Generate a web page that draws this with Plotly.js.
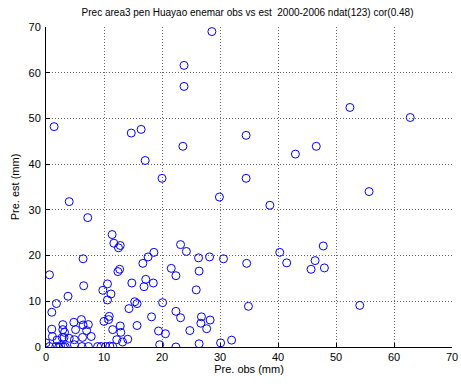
<!DOCTYPE html>
<html>
<head>
<meta charset="utf-8">
<script src="https://cdn.plot.ly/plotly-3.0.1.min.js"></script>
<style>html,body{margin:0;padding:0;background:#fff;}#chart{width:461px;height:384px;}</style>
</head>
<body>
<div id="chart"></div>
<script>
// Observed precipitation (mm)
const obs = [
 28.6, 23.8, 23.8, 1.4, 14.7, 16.4, 23.6, 17.1, 20.0, 4.0,
 7.2, 29.9, 34.5, 43.0, 46.6, 52.4, 62.8, 55.7, 34.5, 38.6,
 47.8, 40.3, 41.5, 46.4, 45.7, 48.0, 54.1, 34.6, 34.9, 30.6,
 28.2, 26.3, 23.2, 24.2, 18.6, 17.6, 16.7, 21.6, 22.4, 26.4,
 17.2, 18.5, 16.9, 25.9, 20.1, 22.4, 23.2, 18.2, 26.8, 28.3,
 26.7, 27.7, 24.8, 19.4, 20.6, 32.0, 30.1, 19.6, 26.4, 22.4,
 11.4, 11.7, 12.8, 12.5, 6.4, 0.6, 12.4, 12.7, 6.5, 14.8,
 10.6, 9.8, 11.2, 10.6, 3.8, 1.8, 1.0, 14.3, 15.7, 15.3,
 10.9, 10.0, 10.8, 11.5, 12.8, 12.9, 12.2, 14.1, 13.2, 15.7,
 9.5, 10.3, 11.5, 7.3, 6.2, 4.9, 3.0, 2.5, 2.2, 3.3,
 1.7, 0.6, 0.0, 1.0, 1.1, 2.9, 2.9, 3.2, 2.8, 3.1,
 4.0, 1.9, 4.8, 6.1, 6.4, 5.1, 7.0, 7.3, 7.8, 6.3,
 4.9, 8.9, 11.0
];
// Estimated precipitation (mm)
const est = [
 69.0, 61.6, 57.0, 48.2, 46.8, 47.6, 43.9, 40.8, 36.9, 31.8,
 28.3, 32.8, 46.3, 42.2, 43.9, 52.4, 50.2, 34.0, 36.9, 31.0,
 22.1, 20.7, 18.4, 18.9, 17.0, 17.3, 9.1, 18.3, 8.9, 19.3,
 19.7, 19.5, 22.4, 20.9, 20.7, 19.7, 18.3, 17.2, 15.6, 16.6,
 14.8, 14.0, 13.2, 12.5, 9.7, 7.8, 6.4, 6.6, 6.6, 5.9,
 5.2, 4.0, 3.6, 3.5, 2.9, 1.5, 0.9, 0.5, 0.7, 0.0,
 24.6, 22.7, 22.2, 21.7, 19.3, 15.8, 16.5, 17.0, 13.4, 14.0,
 13.8, 12.4, 11.6, 10.3, 11.1, 9.5, 7.6, 8.4, 9.5, 9.9,
 6.7, 5.6, 6.0, 3.8, 4.6, 3.2, 1.6, 1.7, 1.1, 4.7,
 0.1, 0.1, 0.1, 0.1, 0.1, 0.5, 0.0, 0.3, 0.0, 0.1,
 0.1, 0.1, 0.9, 3.9, 2.3, 4.9, 3.8, 3.2, 2.1, 2.1,
 1.9, 1.5, 5.4, 6.0, 4.8, 3.8, 3.6, 4.9, 2.3, 2.1,
 1.6, 0.1, 0.2
];
const tickVals = [0, 10, 20, 30, 40, 50, 60, 70];

const font = {family: 'Arial, "Liberation Sans", Helvetica, sans-serif', color: '#000'};

const trace = {
  x: obs, y: est, type: 'scatter', mode: 'markers',
  marker: {symbol: 'circle-open', size: 8, color: '#0000ff', line: {width: 1, color: '#0000ff'}},
  hoverinfo: 'x+y'
};

const axisCommon = {
  range: [0, 70], tickvals: tickVals, ticktext: tickVals.map(String),
  ticks: 'inside', ticklen: 4, tickcolor: '#000', tickwidth: 1,
  showline: true, linecolor: '#000', linewidth: 1, mirror: false,
  showgrid: true, gridcolor: '#666666', griddash: '1px,2px', gridwidth: 1,
  zeroline: false, tickfont: Object.assign({size: 11}, font)
};

const layout = {
  width: 461, height: 384,
  margin: {l: 46, r: 9, t: 27, b: 37},
  paper_bgcolor: '#fff', plot_bgcolor: '#fff',
  showlegend: false,
  title: {text: 'Prec area3 pen Huayao enemar obs vs est  2000-2006 ndat(123) cor(0.48)',
          font: Object.assign({size: 10}, font), x: 0.537, xanchor: 'center', y: 0.967, yanchor: 'middle'},
  xaxis: Object.assign({}, axisCommon, {title: {text: 'Pre. obs (mm)', font: Object.assign({size: 11}, font), standoff: 3}}),
  yaxis: Object.assign({}, axisCommon, {ticklabelstandoff: 2, title: {text: 'Pre. est (mm)', font: Object.assign({size: 11}, font), standoff: 6}})
};

Plotly.newPlot('chart', [trace], layout, {displayModeBar: false, staticPlot: true});
</script>
</body>
</html>
